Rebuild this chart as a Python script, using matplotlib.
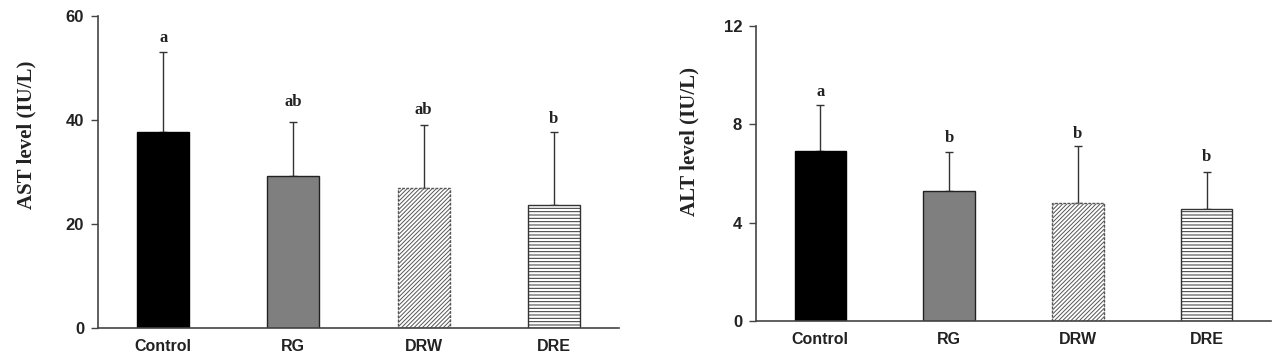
import numpy as np
import matplotlib.pyplot as plt

groups = ['Control', 'RG', 'DRW', 'DRE']

ast_mean = [37.7, 29.2, 26.9, 23.7]
ast_err = [15.3, 10.5, 12.1, 13.9]
ast_letters = ['a', 'ab', 'ab', 'b']
ast_letter_y = [55.8, 43.5, 41.9, 40.1]

alt_mean = [6.93, 5.29, 4.81, 4.56]
alt_err = [1.86, 1.60, 2.31, 1.49]
alt_letters = ['a', 'b', 'b', 'b']
alt_letter_y = [9.33, 7.45, 7.61, 6.68]

plt.rcParams['hatch.linewidth'] = 0.7

fig = plt.figure(figsize=(12.72, 3.54), dpi=100)
ax1 = fig.add_axes([98 / 1272, 26 / 354, 521 / 1272, 312 / 354])
ax2 = fig.add_axes([756 / 1272, 33 / 354, 515 / 1272, 295 / 354])

styles = [
    dict(color='black', edgecolor='black'),
    dict(color='#7f7f7f', edgecolor='#222222'),
    dict(color='white', edgecolor='#555555', hatch='////////', linestyle=(0, (2, 1))),
    dict(color='white', edgecolor='#333333', hatch='-----'),
]


def draw(ax, means, errs, letters, letter_y, ymax, step, ylabel, label_pos):
    x = np.arange(len(groups))
    for i in range(len(groups)):
        ax.bar(x[i], means[i], width=0.4, linewidth=1.0, zorder=2, **styles[i])
    ax.errorbar(x, means, yerr=[np.zeros(len(errs)), errs], fmt='none',
                ecolor='#333333', elinewidth=1.0, capsize=3, capthick=1.0, zorder=1)
    for i, t in enumerate(letters):
        ax.text(x[i], letter_y[i], t, ha='center', va='center', fontsize=12,
                fontweight='bold', family='Liberation Serif', color='#222222')
    ax.set_xlim(-0.5, 3.5)
    ax.set_ylim(0, ymax)
    ax.set_yticks(np.arange(0, ymax + step / 2, step))
    ax.set_xticks(x)
    ax.set_xticklabels(groups)
    for sp in ['top', 'right']:
        ax.spines[sp].set_visible(False)
    for sp in ['left', 'bottom']:
        ax.spines[sp].set_color('#444444')
        ax.spines[sp].set_linewidth(1.2)
    ax.tick_params(axis='x', length=0, pad=8)
    ax.tick_params(axis='y', length=5, width=1, color='#444444', pad=5)
    for lab in ax.get_xticklabels():
        lab.set_fontsize(11.5)
    for lab in ax.get_yticklabels():
        lab.set_fontsize(12)
    for lab in ax.get_xticklabels() + ax.get_yticklabels():
        lab.set_fontweight('bold')
        lab.set_family('Liberation Sans')
        lab.set_color('#222222')
    ax.set_ylabel(ylabel, fontsize=15, fontweight='bold', family='Liberation Serif',
                  color='#222222')
    ax.yaxis.set_label_coords(label_pos[0] / 1272, (354 - label_pos[1]) / 354,
                              transform=fig.transFigure)


draw(ax1, ast_mean, ast_err, ast_letters, ast_letter_y, 60, 20, 'AST level (IU/L)', (36, 135))
draw(ax2, alt_mean, alt_err, alt_letters, alt_letter_y, 12, 4, 'ALT level (IU/L)', (699, 142))

fig.savefig('out.png', dpi=100)
